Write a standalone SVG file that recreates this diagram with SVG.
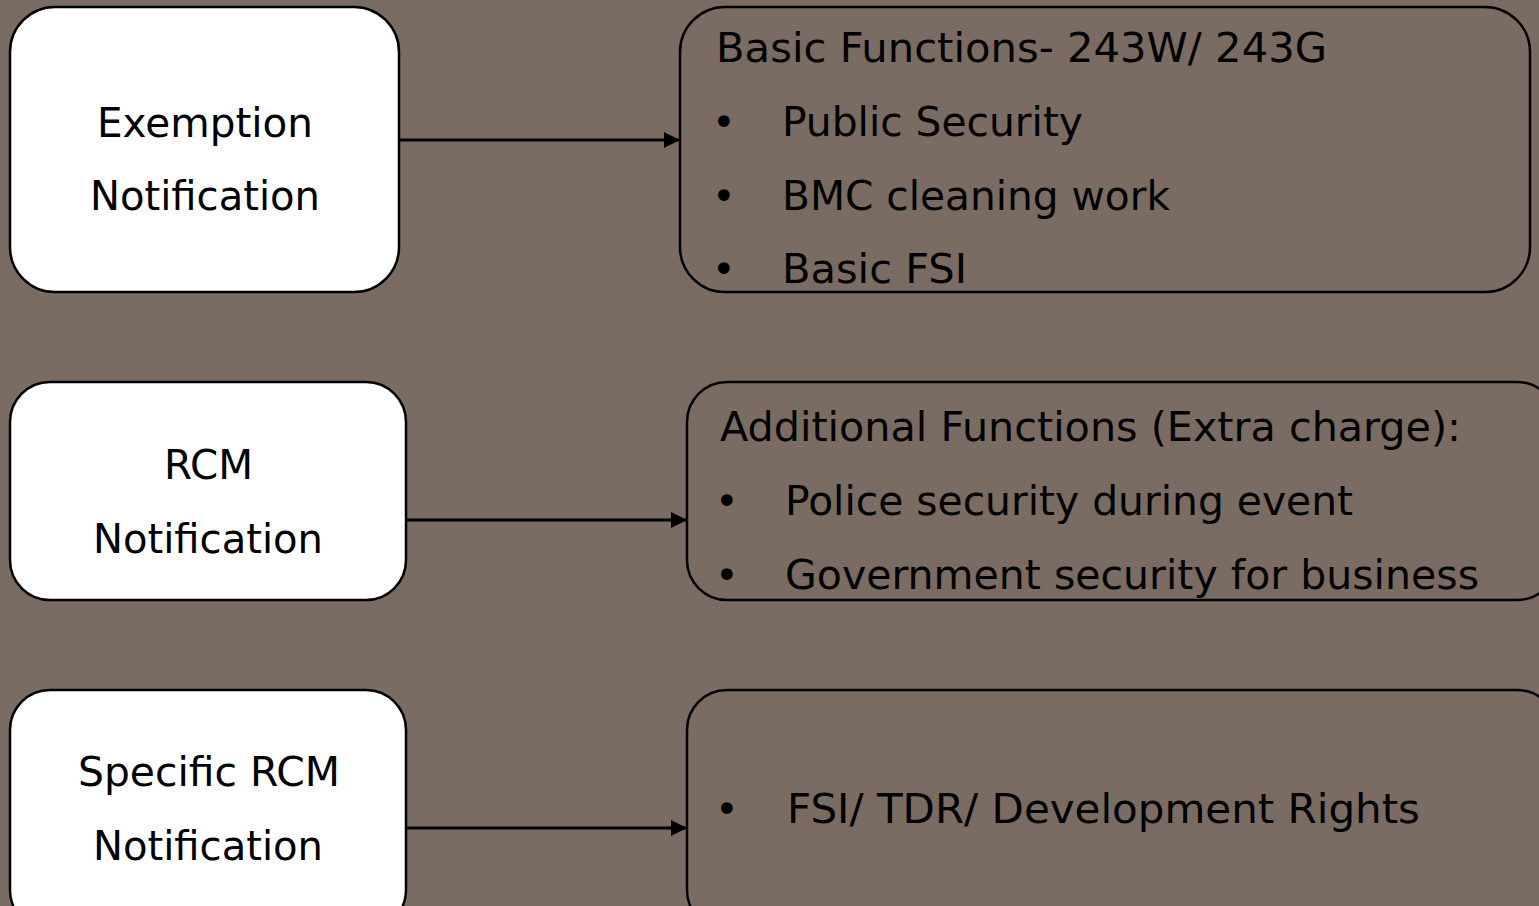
<svg xmlns="http://www.w3.org/2000/svg" width="1539" height="906" viewBox="0 0 1539 906">
  <defs>
    <marker id="arrow" viewBox="0 0 10 10" refX="10" refY="5" markerWidth="5.5" markerHeight="5.5" orient="auto" markerUnits="strokeWidth">
      <path d="M0,0 L10,5 L0,10 Z" fill="#000"/>
    </marker>
    <style>
      .src { fill: #ffffff; stroke: #000; stroke-width: 2.5; }
      .dst { fill: none; stroke: #000; stroke-width: 2.5; }
      .t { font-family: "DejaVu Sans", Verdana, sans-serif; font-size: 40px; fill: #000; }
      .link { stroke: #000; stroke-width: 3; fill: none; marker-end: url(#arrow); }
    </style>
  </defs>
  <rect width="1539" height="906" fill="#7a6c62"/>

  <g id="connectors">
    <line class="link" x1="399" y1="140" x2="680" y2="140"/>
    <line class="link" x1="406" y1="520" x2="687" y2="520"/>
    <line class="link" x1="406" y1="828" x2="687" y2="828"/>
  </g>

  <g id="exemption">
    <rect class="src" x="10" y="7" width="389" height="285" rx="45"/>
    <text class="t" x="97" y="137" textLength="216" lengthAdjust="spacingAndGlyphs">Exemption</text>
    <text class="t" x="90" y="210" textLength="230" lengthAdjust="spacingAndGlyphs">Notification</text>
  </g>

  <g id="basic-functions">
    <rect class="dst" x="680" y="7" width="850" height="285" rx="45"/>
    <text class="t" x="716" y="62" textLength="611" lengthAdjust="spacingAndGlyphs">Basic Functions- 243W/ 243G</text>
    <text class="t" x="712" y="136">•</text>
    <text class="t" x="782" y="136" textLength="301" lengthAdjust="spacingAndGlyphs">Public Security</text>
    <text class="t" x="712" y="210">•</text>
    <text class="t" x="782" y="210" textLength="388" lengthAdjust="spacingAndGlyphs">BMC cleaning work</text>
    <text class="t" x="712" y="283">•</text>
    <text class="t" x="782" y="283" textLength="185" lengthAdjust="spacingAndGlyphs">Basic FSI</text>
  </g>

  <g id="rcm">
    <rect class="src" x="10" y="382" width="396" height="218" rx="40"/>
    <text class="t" x="164" y="479" textLength="89" lengthAdjust="spacingAndGlyphs">RCM</text>
    <text class="t" x="93" y="553" textLength="230" lengthAdjust="spacingAndGlyphs">Notification</text>
  </g>

  <g id="additional-functions">
    <rect class="dst" x="687" y="382" width="870" height="218" rx="40"/>
    <text class="t" x="720" y="441" textLength="741" lengthAdjust="spacingAndGlyphs">Additional Functions (Extra charge):</text>
    <text class="t" x="715" y="515">•</text>
    <text class="t" x="785" y="515" textLength="568" lengthAdjust="spacingAndGlyphs">Police security during event</text>
    <text class="t" x="715" y="589">•</text>
    <text class="t" x="785" y="589" textLength="694" lengthAdjust="spacingAndGlyphs">Government security for business</text>
  </g>

  <g id="specific-rcm">
    <rect class="src" x="10" y="690" width="396" height="240" rx="40"/>
    <text class="t" x="78" y="786" textLength="262" lengthAdjust="spacingAndGlyphs">Specific RCM</text>
    <text class="t" x="93" y="860" textLength="230" lengthAdjust="spacingAndGlyphs">Notification</text>
  </g>

  <g id="development-rights">
    <rect class="dst" x="687" y="690" width="870" height="240" rx="40"/>
    <text class="t" x="715" y="823">•</text>
    <text class="t" x="787" y="823" textLength="633" lengthAdjust="spacingAndGlyphs">FSI/ TDR/ Development Rights</text>
  </g>
</svg>
